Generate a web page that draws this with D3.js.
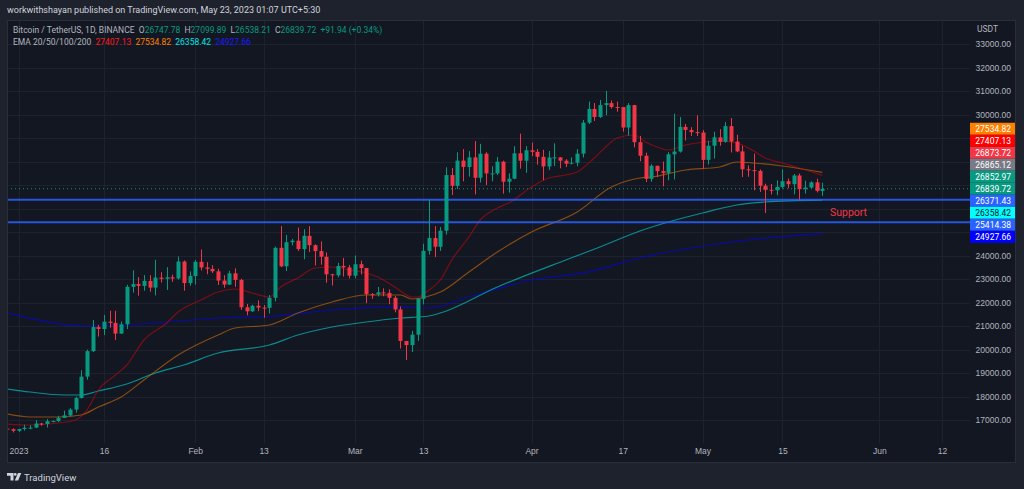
<!DOCTYPE html>
<html>
<head>
<meta charset="utf-8">
<script src="https://cdn.jsdelivr.net/npm/d3@7"></script>
<style>
body{margin:0;background:#1e222d;}
svg{display:block;font-family:Roboto,"Open Sans",sans-serif;}
text{white-space:pre;}
</style>
</head>
<body>
<svg id="chart" width="1024" height="489"></svg>
<script>
// BTCUSDT 1D, Dec 30 2022 -> May 22 2023, one row per month
const firstDay = "2022-12-30";
const lastDay = "2023-05-22";

const opens = [
 16633,16607,
 16542,16617,16672,16675,16851,16831,16951,16953,17092,17192,17446,17935,18847,19930,20955,20872,21186,21133,20677,21072,22667,22784,22707,22917,22633,23061,23009,23075,23022,23743,22827,
 23125,23732,23489,23432,23327,22932,22762,23242,22961,21796,21625,21862,21782,21773,22199,24327,23541,24566,24631,24272,24836,24439,24189,23947,23200,23157,23555,23492,
 23141,23629,23466,22355,22346,22430,22409,22198,21705,20363,20187,20633,22156,24197,24743,24373,25055,27424,26963,28038,27768,28175,27307,28333,27494,27494,27994,27140,27268,28348,28033,
 28478,28411,28199,27790,28169,28175,28034,27906,27948,28334,29653,30235,29892,30400,30485,30318,30316,29445,30398,28823,28245,27262,27817,27591,27514,28307,28422,29474,29340,29249,
 29234,28069,28670,29027,28837,29506,28848,28430,27669,27629,27599,26969,26796,26774,26917,27163,27033,27405,26822,26890,27113,26747.78
];
const highs = [
 16677,16644,
 16628,16800,16778,16991,16879,17041,16981,17176,17398,17499,17991,19117,19995,21258,21050,21474,21650,21650,21192,22755,23371,23078,23165,23162,23816,23290,23500,23186,23960,23789,23320,
 23812,24255,23715,23587,23433,23162,23350,23452,23011,21938,21906,22090,21894,22319,24380,25250,24876,24709,25192,25121,25250,24476,24600,24132,23219,23689,23897,23600,
 24000,23778,23476,22400,22662,22602,22557,22273,21834,20367,20792,22185,24500,26386,25250,25214,27756,27724,28390,28528,28439,28868,28752,28399,27795,28194,28037,27500,28650,29184,28656,
 28805,28531,28500,28444,28775,28191,28100,28173,28530,29770,30550,30486,30620,31000,30595,30549,30320,30488,30411,29090,28374,27887,27820,28000,28400,30036,29890,29600,29459,29967,
 29338,28888,29267,29376,29677,29850,29138,28664,27830,28336,27659,27054,27041,27200,27666,27279,27466,27485,27183,27156,27270,27099.89
];
const lows = [
 16334,16470,
 16499,16548,16605,16652,16753,16679,16908,16911,17082,17160,17314,17914,18714,19887,20551,20611,20926,20407,20659,20868,22422,22293,22500,22462,22300,22850,22534,22878,22976,22500,22714,
 22760,23363,23204,23255,22745,22628,22745,22665,21688,21451,21599,21631,21351,21532,22047,23505,23340,24430,24192,23840,24148,23574,23608,22841,22722,23069,23106,23020,
 23020,23195,21971,22157,22258,22266,21927,21580,20042,19549,19895,20366,21918,24040,23931,24197,24890,26578,26827,27156,27352,26601,27105,27000,27156,27421,26631,26674,27241,27696,27525,
 28227,27867,27200,27636,27806,27711,27766,27874,27800,28170,29590,29725,29855,29966,30254,30120,29270,29103,28600,28010,27125,27137,27331,26942,27200,27235,28378,28891,29088,29080,
 27680,27872,28127,28669,28800,28385,28395,27336,27350,26777,26706,25811,26600,26561,26852,26863,26601,26367,26630,26849,26686,26538.21
];
const closes = [
 16607,16542,
 16616,16672,16675,16850,16831,16951,16955,17092,17196,17446,17934,18846,19930,20955,20872,21186,21134,20677,21071,22667,22784,22707,22917,22633,23061,23009,23074,23023,23743,22827,23125,
 23733,23490,23432,23327,22933,22762,23240,22963,21797,21625,21862,21783,21773,22199,24325,23539,24566,24631,24272,24837,24439,24189,23947,23199,23157,23555,23493,23141,
 23628,23466,22354,22346,22430,22410,22197,21705,20363,20187,20633,22163,24197,24746,24375,25055,27423,26965,28038,27767,28175,27307,28333,27493,27494,27994,27139,27268,28348,28033,28478,
 28411,28199,27790,28169,28175,28034,27906,27948,28333,29652,30235,29892,30400,30485,30318,30316,29445,30398,28823,28245,27263,27817,27592,27515,28308,28422,29473,29340,29249,29234,
 28069,28670,29027,28838,29506,28848,28431,27669,27629,27599,26969,26796,26774,26917,27162,27033,27405,26822,26890,27113,26747.78,26839.72
];

// EMA curves
const ema20Dates = ["2022-12-30","2023-01-03","2023-01-08","2023-01-11","2023-01-13","2023-01-15","2023-01-18","2023-01-20",
 "2023-01-23","2023-01-27","2023-01-29","2023-02-02","2023-02-05","2023-02-08","2023-02-11","2023-02-14","2023-02-16",
 "2023-02-19","2023-02-22","2023-02-25","2023-02-28","2023-03-03","2023-03-05","2023-03-08","2023-03-11","2023-03-12",
 "2023-03-14","2023-03-16","2023-03-18","2023-03-21","2023-03-23","2023-03-26","2023-03-28","2023-04-01","2023-04-04",
 "2023-04-07","2023-04-09","2023-04-12","2023-04-14","2023-04-16","2023-04-19","2023-04-21","2023-04-23","2023-04-25",
 "2023-04-28","2023-04-30","2023-05-04","2023-05-07","2023-05-10","2023-05-12","2023-05-15","2023-05-18","2023-05-22"];
const ema20Values = [16830,16787,16872,17000,17426,18277,18915,19340,
 20404,21128,21596,22106,22447,22574,22404,22234,22660,
 23043,23468,23511,23383,23255,23085,22660,22234,22234,
 22532,22957,23809,24787,25511,26021,26234,26915,27298,
 27426,27553,28149,28617,29000,29128,28830,28617,28489,
 28702,28787,28872,28787,28447,28149,27936,27723,27407.13];

const ema50Dates = ["2022-12-30","2023-01-03","2023-01-08","2023-01-12","2023-01-15","2023-01-19","2023-01-23","2023-01-29",
 "2023-02-05","2023-02-08","2023-02-14","2023-02-19","2023-02-25","2023-03-03","2023-03-09","2023-03-11","2023-03-14",
 "2023-03-16","2023-03-21","2023-03-26","2023-04-01","2023-04-09","2023-04-15","2023-04-20","2023-04-22","2023-04-28",
 "2023-05-04","2023-05-07","2023-05-10","2023-05-15","2023-05-22"];
const ema50Values = [17255,17128,17128,17213,17553,17979,18702,19766,
 20617,20915,21043,21553,22021,22319,22319,22149,22277,
 22447,23298,24149,25000,25851,26915,27298,27340,27638,
 27766,27979,27936,27809,27534.82];

const ema100Dates = ["2022-12-30","2023-01-03","2023-01-09","2023-01-12","2023-01-15","2023-01-20","2023-01-25","2023-01-30",
 "2023-02-05","2023-02-14","2023-02-19","2023-02-25","2023-03-03","2023-03-09","2023-03-14","2023-03-16","2023-03-26",
 "2023-04-07","2023-04-13","2023-04-20","2023-04-25","2023-05-01","2023-05-07","2023-05-12","2023-05-22"];
const ema100Values = [18319,18191,18064,18064,18234,18532,19000,19340,
 19851,20191,20617,20957,21170,21340,21426,21553,22660,
 23809,24362,25043,25426,25809,26149,26277,26358.42];

const ema200Dates = ["2022-12-30","2023-01-13","2023-01-20","2023-01-27","2023-02-05","2023-02-15","2023-02-25","2023-03-09",
 "2023-03-14","2023-03-21","2023-04-01","2023-04-11","2023-04-20","2023-05-09","2023-05-22"];
const ema200Values = [21553,21000,21043,21170,21340,21425,21680,21810,
 21766,22234,22957,23300,23894,24660,24927.66];

// time axis
const tickDates = ["2023-01-01","2023-01-16","2023-02-01","2023-02-13","2023-03-01","2023-03-13",
 "2023-04-01","2023-04-17","2023-05-01","2023-05-15","2023-06-01","2023-06-12"];
const tickLabels = ["2023","16","Feb","13","Mar","13","Apr","17","May","15","Jun","12"];

// drawn horizontal levels and the price scale labels
const supportLevels = [26371.43, 25414.38];
const priceLabels = [27534.82, 27407.13, 26873.72, 26865.12, 26852.97, 26839.72, 26371.43, 26358.42, 25414.38, 24927.66];
const priceTicks = d3.range(17000, 33001, 1000);

// ---------------------------------------------------------------------------
const labelFill = ["#ff7f00","#ff0000","#f23645","#787b86","#089981","#089981","#2962ff","#00ffff","#2962ff","#0000ff"];
const labelText = ["#fff","#fff","#fff","#fff","#fff","#fff","#fff","#131722","#fff","#fff"];
const upCol = "#089981", downCol = "#f23645", txtCol = "#b2b5be", gridCol = "#1e2230";

const parse = d3.utcParse("%Y-%m-%d");
const f2 = d3.format(".2f");
const svg = d3.select("#chart");

const plotL = 7, plotR = 970, plotT = 20, plotB = 443;

const x = d3.scaleUtc()
  .domain([parse("2023-01-01"), parse("2023-06-12")])
  .range([18.5, 942]);
const y = d3.scaleLinear().domain([17000, 33000]).range([420, 44]);

// panel
svg.append("rect").attr("x", 7.5).attr("y", 20.5).attr("width", 1008).attr("height", 442)
  .attr("fill", "#131722").attr("stroke", "#2a2e39");

svg.append("clipPath").attr("id", "plot")
  .append("rect").attr("x", plotL + 1).attr("y", plotT + 1).attr("width", plotR - plotL - 1).attr("height", plotB - plotT - 1);

// grid
const grid = svg.append("g").attr("clip-path", "url(#plot)");
grid.selectAll(".hg").data(priceTicks).join("line")
  .attr("x1", plotL).attr("x2", plotR)
  .attr("y1", d => Math.round(y(d)) + 0.5).attr("y2", d => Math.round(y(d)) + 0.5)
  .attr("stroke", gridCol);
grid.selectAll(".vg").data(tickDates).join("line")
  .attr("x1", d => Math.round(x(parse(d))) + 0.5).attr("x2", d => Math.round(x(parse(d))) + 0.5)
  .attr("y1", plotT).attr("y2", plotB)
  .attr("stroke", gridCol);

const plot = svg.append("g").attr("clip-path", "url(#plot)");

// EMA lines
const emas = [
  [ema200Dates, ema200Values, "#0000ff", 0.6],
  [ema100Dates, ema100Values, "#00ffff", 0.5],
  [ema50Dates, ema50Values, "#ff8000", 0.5],
  [ema20Dates, ema20Values, "#ff0000", 0.45]
];
const line = d3.line().x(d => x(d[0])).y(d => y(d[1])).curve(d3.curveMonotoneX);
emas.forEach(([ds, vs, col, op]) => {
  const pts = ds.map((d, i) => [parse(d), vs[i]]);
  plot.append("path").attr("d", line(pts))
    .attr("fill", "none").attr("stroke", col).attr("stroke-opacity", op).attr("stroke-width", 1.2);
});

// support levels
plot.selectAll(".lvl").data(supportLevels).join("line")
  .attr("x1", plotL).attr("x2", plotR)
  .attr("y1", d => y(d)).attr("y2", d => y(d))
  .attr("stroke", "#2962ff").attr("stroke-opacity", 0.85).attr("stroke-width", 1.8);

// last price dotted line
const n = closes.length - 1;
const lastClose = closes[n];
plot.append("line")
  .attr("x1", plotL).attr("x2", plotR)
  .attr("y1", y(lastClose)).attr("y2", y(lastClose))
  .attr("stroke", upCol).attr("stroke-dasharray", "1,3");

// candles
const days = d3.utcDay.range(parse(firstDay), d3.utcDay.offset(parse(lastDay), 1));
const candles = days.map((d, i) => ({ date: d, o: opens[i], h: highs[i], l: lows[i], c: closes[i] }));
const cg = plot.selectAll(".candle").data(candles).join("g");
cg.append("line")
  .attr("x1", d => Math.round(x(d.date)) + 0.5).attr("x2", d => Math.round(x(d.date)) + 0.5)
  .attr("y1", d => y(d.h)).attr("y2", d => y(d.l))
  .attr("stroke", d => d.c >= d.o ? upCol : downCol);
cg.append("rect")
  .attr("x", d => Math.round(x(d.date)) - 1.5).attr("width", 4)
  .attr("y", d => y(Math.max(d.o, d.c)))
  .attr("height", d => Math.max(1, Math.abs(y(d.o) - y(d.c))))
  .attr("fill", d => d.c >= d.o ? upCol : downCol);

// Support text
svg.append("text").attr("x", 830).attr("y", 216)
  .attr("fill", "#f23645").attr("font-size", 10.5).text("Support");

// stacked price labels, anchored on the last price
const anchor = priceLabels.indexOf(lastClose);
const ly = priceLabels.map(v => y(v));
for (let i = anchor - 1; i >= 0; i--) ly[i] = Math.min(ly[i], ly[i + 1] - 12);
for (let i = anchor + 1; i < ly.length; i++) ly[i] = Math.max(ly[i], ly[i - 1] + 12);

// price axis, ticks hidden where a label box sits
const yAxis = svg.append("g").attr("transform", "translate(976,0)")
  .call(d3.axisRight(y).tickValues(priceTicks).tickSize(0).tickPadding(0).tickFormat(f2));
yAxis.select(".domain").remove();
yAxis.selectAll(".tick").filter(d => ly.some(v => Math.abs(v - y(d)) < 11)).remove();
yAxis.selectAll("text").attr("x", 35).attr("text-anchor", "end")
  .attr("fill", txtCol).attr("font-size", 8.5).attr("font-family", null);
svg.append("text").attr("x", 977).attr("y", 32).attr("fill", txtCol).attr("font-size", 8.5).text("USDT");

const lg = svg.selectAll(".plab").data(priceLabels).join("g")
  .attr("transform", (d, i) => `translate(970,${ly[i]})`);
lg.append("rect").attr("x", 0).attr("y", -6).attr("width", 45).attr("height", 12)
  .attr("fill", (d, i) => labelFill[i]);
lg.append("text").attr("x", 41).attr("y", 3).attr("text-anchor", "end")
  .attr("font-size", 8.5).attr("fill", (d, i) => labelText[i])
  .text(d => f2(d));

// time axis
const xAxis = svg.append("g").attr("transform", "translate(0,448)")
  .call(d3.axisBottom(x).tickValues(tickDates.map(parse)).tickSize(0).tickPadding(0)
    .tickFormat((d, i) => tickLabels[i]));
xAxis.select(".domain").remove();
xAxis.selectAll("text").attr("fill", txtCol).attr("font-size", 8.5).attr("font-family", null);

// header
svg.append("text").attr("x", 7).attr("y", 13).attr("fill", "#d1d4dc").attr("font-size", 9)
  .text("workwithshayan published on TradingView.com, May 23, 2023 01:07 UTC+5:30");

const chg = closes[n] - closes[n - 1];
const l2 = svg.append("text").attr("x", 13).attr("y", 33).attr("font-size", 8.5).attr("fill", txtCol);
[["Bitcoin / TetherUS, 1D, BINANCE  O", txtCol], [f2(opens[n]), upCol],
 ["  H", txtCol], [f2(highs[n]), upCol], ["  L", txtCol], [f2(lows[n]), upCol],
 ["  C", txtCol], [f2(closes[n]), upCol],
 [`  +${f2(chg)} (+${f2(chg / closes[n - 1] * 100)}%)`, upCol]]
  .forEach(([t, c]) => l2.append("tspan").attr("fill", c).text(t));

const l3 = svg.append("text").attr("x", 13).attr("y", 45).attr("font-size", 8.5).attr("fill", txtCol);
[["EMA 20/50/100/200  ", txtCol],
 [f2(ema20Values[ema20Values.length - 1]), "#ff1a1a"], ["  ", txtCol],
 [f2(ema50Values[ema50Values.length - 1]), "#ff8000"], ["  ", txtCol],
 [f2(ema100Values[ema100Values.length - 1]), "#00e5e5"], ["  ", txtCol],
 [f2(ema200Values[ema200Values.length - 1]), "#1a1aff"]]
  .forEach(([t, c]) => l3.append("tspan").attr("fill", c).text(t));

// footer logo
const logo = svg.append("g").attr("fill", "#d1d4dc");
logo.append("path").attr("d", "M7,473 h6.5 v7.5 h-3 v-4.8 h-3.5 z");
logo.append("circle").attr("cx", 15.2).attr("cy", 474.4).attr("r", 1.4);
logo.append("path").attr("d", "M18,473 h3.3 l-3.2,7.5 h-3.3 z");
svg.append("text").attr("x", 24).attr("y", 480.5).attr("fill", "#d1d4dc").attr("font-size", 9.5)
  .text("TradingView");
</script>
</body>
</html>
